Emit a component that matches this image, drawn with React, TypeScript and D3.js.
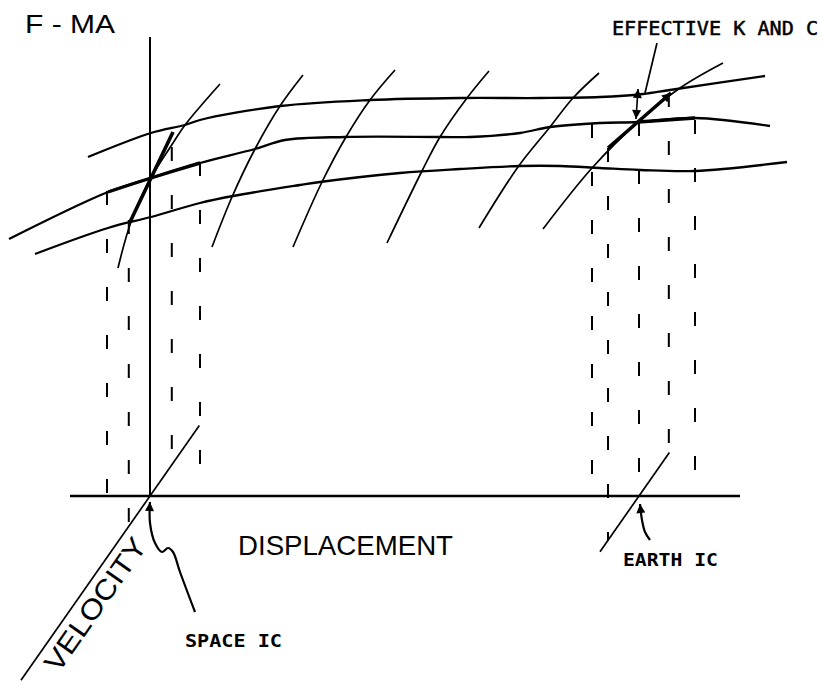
import React from 'react';
import * as d3 from 'd3';

// F-MA surface sketch: displacement (x), F-MA (y), velocity (oblique axis)
type Pt = [number, number];

// three "constant velocity" curves of F-MA against displacement
const topCurve: Pt[] = [[-6.2, 33.9], [0.1, 36.3], [3.5, 37.1], [5, 37.6], [13, 39], [22, 39.6], [31, 39.8], [39, 39.8], [45, 39.9], [49.3, 40.2], [52, 40.6], [61.5, 42]];
const midCurve: Pt[] = [[-14.1, 25.7], [-4.2, 30.4], [0.1, 31.8], [5, 33.3], [10.5, 34.7], [13.5, 35.6], [19.5, 35.9], [29, 35.9], [32, 35.9], [37, 36.3], [40, 36.9], [45, 37.3], [48.8, 37.4], [54.5, 37.8], [62, 37]];
const lowCurve: Pt[] = [[-11.5, 24.2], [-4.2, 26.8], [0.1, 27.9], [5, 29.3], [8.3, 30], [15, 31.1], [17, 31.4], [25, 32.3], [31, 32.7], [37, 33], [41, 33], [45, 32.8], [49, 32.6], [54.5, 32.5], [63.7, 33.4]];

// "constant displacement" curves crossing them
const crossCurves: Pt[][] = [
  [[-3.2, 22.8], [-1.9, 27.4], [0.1, 31.8], [2.3, 35.3], [3.5, 37.1], [7, 41.2]],
  [[6.2, 24.9], [8.2, 29.9], [10.5, 34.7], [13, 39], [15.3, 42.1]],
  [[14.3, 24.9], [17.2, 31.4], [19.6, 35.9], [22, 39.6], [24.5, 42.6]],
  [[23.7, 25.3], [27.2, 32.5], [29, 35.9], [31.7, 39.8], [33.9, 42.5]],
  [[32.9, 26.8], [36.8, 32.9], [40, 36.9], [42.3, 39.8], [44.9, 42.3]],
  [[39.3, 26.7], [44.2, 32.8], [48.8, 37.4], [53, 40.8], [57.3, 43.3]],
];

// effective K and C (tangent) segments
const spaceTangent: Pt[] = [[-2.0, 27.4], [2.3, 36.4]];
const spaceBold: Pt[] = [[-4.2, 30.4], [0.1, 31.8], [5.0, 33.3]];
const earthTangent: Pt[] = [[45.8, 34.8], [52.1, 40.3]];
const earthBold: Pt[] = [[48.8, 37.4], [54.5, 37.8]];

// dashed projections: to displacement axis, and to velocity axis
const dispDrops = [{ d: -4.3, f: 30.5 }, { d: 5.0, f: 33.4 }, { d: 44.2, f: 37.2 }, { d: 48.9, f: 37.4 }, { d: 54.5, f: 37.6 }];
const velDrops = [{ o: 0, v: -3.7, f: 27.6 }, { o: 0, v: 3.8, f: 34.9 }, { o: 48.9, v: -5.4, f: 34.8 }, { o: 48.9, v: 5.2, f: 40.3 }];

// initial conditions (origins of velocity axes) and their extents
const origins = [{ name: 'SPACE IC', d: 0, vMin: -22.5, vMax: 8.6 }, { name: 'EARTH IC', d: 48.9, vMin: -6.8, vMax: 5.3 }];
const dispDomain: Pt = [-8, 59];
const fmaMax = 45.9;

const kcArrow: Pt[] = [[48.8, 40.7], [48.6, 37.7]];
const kcLeader: Pt[] = [[50.7, 45.3], [49.5, 40.3]];
const spaceLeader: Pt[] = [[0, -0.6], [0, -2.7], [0.5, -4.7], [1.2, -5.6], [1.8, -5.2], [2.3, -5.6], [3, -7.6], [4.5, -11.6]];
const earthLeader: Pt[] = [[49, -0.8], [49.2, -2.4], [49.5, -3.6], [50, -4.4]];

const W = 822;
const H = 681;
const ANG = (55 * Math.PI) / 180;

const App: React.FC = () => {
  const x = d3.scaleLinear().domain([0, 10]).range([150, 250]);
  const y = d3.scaleLinear().domain([0, 10]).range([496, 396]);
  const vs = d3.scaleLinear().domain([0, 10]).range([0, 100]);

  const velPt = (o: number, v: number): Pt => [x(o) + vs(v) * Math.cos(ANG), y(0) - vs(v) * Math.sin(ANG)];

  const line = d3.line<Pt>().x(d => x(d[0])).y(d => y(d[1])).curve(d3.curveCatmullRom);
  const straight = d3.line<Pt>().x(d => x(d[0])).y(d => y(d[1]));
  const raw = d3.line<Pt>();

  const ink = '#000';
  const mono = '"DejaVu Sans Mono", monospace';
  const sans = '"Liberation Sans", Arial, sans-serif';

  // velocity label along the SPACE IC velocity axis, just below-right of it
  const vMid = velPt(0, -12.0);
  const off = 27;
  const lbl: Pt = [vMid[0] + off * Math.sin(ANG), vMid[1] + off * Math.cos(ANG)];

  return (
    <svg width={W} height={H} style={{ position: 'absolute', left: 0, top: 0, background: '#fff' }}>
      <defs>
        <marker id="ah" viewBox="0 0 10 10" refX="10" refY="5" markerUnits="userSpaceOnUse" markerWidth="10" markerHeight="9" orient="auto-start-reverse">
          <path d="M0,0 L10,5 L0,10 z" fill={ink} />
        </marker>
      </defs>

      {/* axes */}
      <line x1={x(dispDomain[0])} x2={x(dispDomain[1])} y1={y(0)} y2={y(0)} stroke={ink} strokeWidth={2.4} />
      <line x1={x(0)} x2={x(0)} y1={y(0)} y2={y(fmaMax)} stroke={ink} strokeWidth={2} />
      {origins.map(o => (
        <path key={o.name} d={raw([velPt(o.d, o.vMin), velPt(o.d, o.vMax)]) || ''} stroke={ink} strokeWidth={1.7} fill="none" />
      ))}

      {/* surface curves */}
      {[topCurve, midCurve, lowCurve].map((c, i) => (
        <path key={'c' + i} d={line(c) || ''} stroke={ink} strokeWidth={2.3} fill="none" />
      ))}
      {crossCurves.map((c, i) => (
        <path key={'x' + i} d={line(c) || ''} stroke={ink} strokeWidth={1.7} fill="none" />
      ))}

      {/* dashed projections */}
      {dispDrops.map((p, i) => (
        <line key={'dd' + i} x1={x(p.d)} x2={x(p.d)} y1={y(p.f)} y2={y(0)} stroke={ink} strokeWidth={2} strokeDasharray="14 34" />
      ))}
      {velDrops.map((p, i) => {
        const b = velPt(p.o, p.v);
        return <line key={'vd' + i} x1={b[0]} x2={b[0]} y1={y(p.f)} y2={b[1]} stroke={ink} strokeWidth={2} strokeDasharray="14 34" />;
      })}

      {/* effective K and C */}
      <path d={straight(spaceTangent) || ''} stroke={ink} strokeWidth={3.6} fill="none" />
      <path d={line(spaceBold) || ''} stroke={ink} strokeWidth={3.4} fill="none" />
      <path d={straight(earthTangent) || ''} stroke={ink} strokeWidth={3.6} fill="none" markerEnd="url(#ah)" />
      <path d={straight(earthBold) || ''} stroke={ink} strokeWidth={3.4} fill="none" />
      <path d={straight(kcArrow) || ''} stroke={ink} strokeWidth={1.6} fill="none" markerStart="url(#ah)" markerEnd="url(#ah)" />
      <path d={straight(kcLeader) || ''} stroke={ink} strokeWidth={1.7} fill="none" />

      {/* IC leaders */}
      <path d={line(spaceLeader) || ''} stroke={ink} strokeWidth={2.2} fill="none" markerStart="url(#ah)" />
      <path d={line(earthLeader) || ''} stroke={ink} strokeWidth={2.2} fill="none" markerStart="url(#ah)" />

      {/* text */}
      <text x={25} y={33} fontFamily={sans} fontSize={25} textLength={90} lengthAdjust="spacingAndGlyphs" fill={ink}>F - MA</text>
      <text x={612} y={35} fontFamily={mono} fontSize={20} stroke={ink} strokeWidth={0.5} textLength={206} lengthAdjust="spacingAndGlyphs" fill={ink}>EFFECTIVE K AND C</text>
      <text x={238} y={555} fontFamily={sans} fontSize={28} textLength={215} lengthAdjust="spacingAndGlyphs" fill={ink}>DISPLACEMENT</text>
      <text x={623} y={566} fontFamily={mono} fontWeight="bold" fontSize={18} textLength={95} lengthAdjust="spacingAndGlyphs" fill={ink}>EARTH IC</text>
      <text x={185} y={647} fontFamily={mono} fontWeight="bold" fontSize={18} textLength={97} lengthAdjust="spacingAndGlyphs" fill={ink}>SPACE IC</text>
      <text
        x={lbl[0]}
        y={lbl[1]}
        transform={`rotate(-55 ${lbl[0]} ${lbl[1]})`}
        textAnchor="middle"
        fontFamily={sans}
        fontSize={28}
        textLength={156}
        lengthAdjust="spacingAndGlyphs"
        fill={ink}
      >
        VELOCITY
      </text>
    </svg>
  );
};

export default App;
